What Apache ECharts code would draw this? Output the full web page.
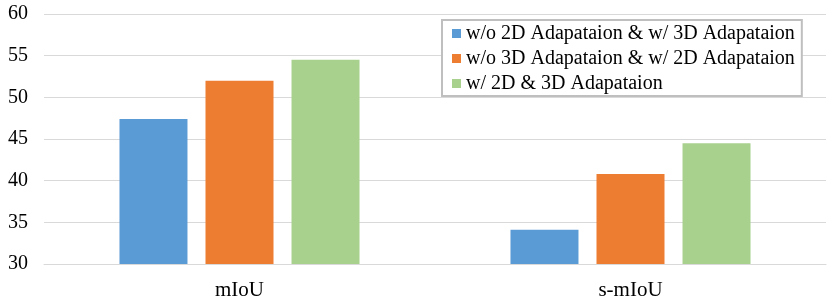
<!DOCTYPE html>
<html><head><meta charset="utf-8">
<script src="https://cdn.jsdelivr.net/npm/echarts@6/dist/echarts.min.js"></script>
<style>html,body{margin:0;padding:0;background:#fff}#c{width:831px;height:302px}</style>
</head><body><div id="c"></div>
<script>
const categories = ['mIoU', 's-mIoU'];
const seriesNames = ['w/o 2D Adapataion & w/ 3D Adapataion', 'w/o 3D Adapataion & w/ 2D Adapataion', 'w/ 2D & 3D Adapataion'];
const noAdapt2D = [47.4, 34.1];
const noAdapt3D = [52.0, 40.8];
const both = [54.5, 44.5];
const colors = ['#5B9BD5', '#ED7D31', '#A9D18E'];
const values = [noAdapt2D, noAdapt3D, both];
const font = '"Liberation Serif", "Times New Roman", serif';
const chart = echarts.init(document.getElementById('c'));
chart.setOption({
  animation: false,
  grid: {left: 44, right: 5, top: 14, bottom: 38},
  legend: {
    orient: 'vertical', left: 442, top: 20,
    data: seriesNames,
    icon: 'rect', itemWidth: 9, itemHeight: 9, itemGap: 0,
    backgroundColor: '#fff', borderColor: '#BFBFBF', borderWidth: 2, borderRadius: 0,
    padding: [1, 7, 0, 10],
    textStyle: {fontFamily: font, fontSize: 20, color: '#000', lineHeight: 25}
  },
  xAxis: {
    type: 'category', data: categories,
    axisLine: {lineStyle: {color: '#D9D9D9', width: 1}},
    axisTick: {show: false},
    axisLabel: {fontFamily: font, fontSize: 21, color: '#000', margin: 16}
  },
  yAxis: {
    type: 'value', min: 30, max: 60, interval: 5,
    axisLine: {show: false}, axisTick: {show: false},
    splitLine: {lineStyle: {color: '#D9D9D9', width: 1}},
    axisLabel: {fontFamily: font, fontSize: 20, color: '#000', margin: 16}
  },
  series: seriesNames.map((n, i) => ({
    name: n, type: 'bar', data: values[i], barWidth: 68, barGap: '26.5%',
    itemStyle: {color: colors[i]}
  }))
});
</script></body></html>
